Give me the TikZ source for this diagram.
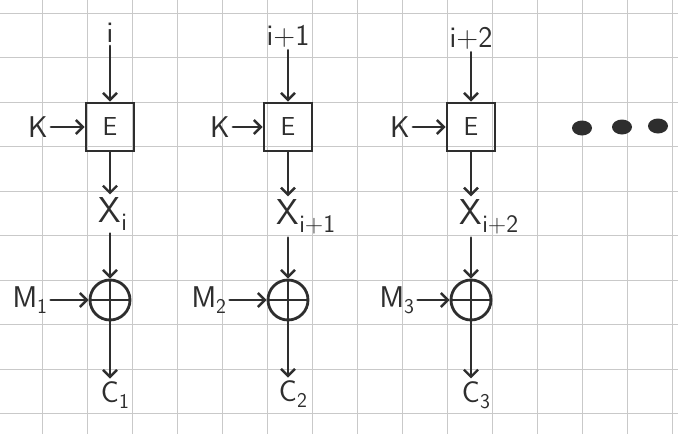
\documentclass[tikz,border=0pt]{standalone}
\usetikzlibrary{arrows.meta}
\definecolor{ink}{HTML}{2E2E2E}
\definecolor{gridc}{HTML}{C9C9C9}
\begin{document}
\begin{tikzpicture}[x=1pt,y=-1pt,
  every node/.style={font=\sffamily\fontsize{30}{32}\selectfont, text=ink, inner sep=3pt},
  conn/.style={draw=ink, line width=2.8pt, -{Straight Barb[length=7pt,width=14pt,line width=2.4pt]}, line cap=round},
  ebox/.style={draw=ink, line width=2.8pt, minimum width=48pt, minimum height=48pt, inner sep=0pt, font=\sffamily\fontsize{26}{28}\selectfont},
  xorc/.style={draw=ink, line width=2.8pt, circle, minimum size=40pt, inner sep=0pt,
    path picture={\draw[ink, line width=2.8pt] (path picture bounding box.north) -- (path picture bounding box.south)
      (path picture bounding box.west) -- (path picture bounding box.east);}},
  xlab/.style={font=\sffamily\fontsize{36}{38}\selectfont}
]
\useasboundingbox (0,0) rectangle (678,434);
\fill[white] (0,0) rectangle (678,434);
% grid paper
\foreach \k in {0,...,14} \draw[gridc, line width=0.8pt] ({42+45*\k},0) -- ({42+45*\k},434);
\foreach \k in {0,...,9} \draw[gridc, line width=0.8pt] (0,{13+44.5*\k}) -- (678,{13+44.5*\k});

% column 1
\node (i1) at (110,33) {i};
\node[ebox] (E1) at (110,127) {E};
\node (K1) at (38,127) {K};
\node[xlab] (X1) at (110,214) {X\rlap{\textsubscript{i}}};
\node[xorc] (P1) at (110,300) {};
\node (M1) at (30,300) {M\textsubscript{1}};
\node (C1) at (110,395) {C\rlap{\textsubscript{1}}};

% column 2
\node (i2) at (288,36) {i+1};
\node[ebox] (E2) at (288,127) {E};
\node (K2) at (220,127) {K};
\node[xlab] (X2) at (288,217) {X\rlap{\textsubscript{i+1}}};
\node[xorc] (P2) at (288,300) {};
\node (M2) at (209,300) {M\textsubscript{2}};
\node (C2) at (288,394) {C\rlap{\textsubscript{2}}};

% column 3
\node (i3) at (471,38) {i+2};
\node[ebox] (E3) at (471,127) {E};
\node (K3) at (400,127) {K};
\node[xlab] (X3) at (471,217) {X\rlap{\textsubscript{i+2}}};
\node[xorc] (P3) at (471,300) {};
\node (M3) at (397,300) {M\textsubscript{3}};
\node (C3) at (471,395) {C\rlap{\textsubscript{3}}};

\foreach \c in {1,2,3} {
  \draw[conn] (i\c) -- (E\c);
  \draw[conn] (K\c) -- (E\c);
  \draw[conn] (E\c) -- (X\c);
  \draw[conn] (X\c) -- (P\c);
  \draw[conn] (M\c) -- (P\c);
  \draw[conn] (P\c) -- (C\c);
}

% continuation dots
\fill[ink] (582,128) ellipse (10pt and 7.5pt);
\fill[ink] (622,127) ellipse (10pt and 7.5pt);
\fill[ink] (658,126) ellipse (10pt and 7.5pt);
\end{tikzpicture}
\end{document}
